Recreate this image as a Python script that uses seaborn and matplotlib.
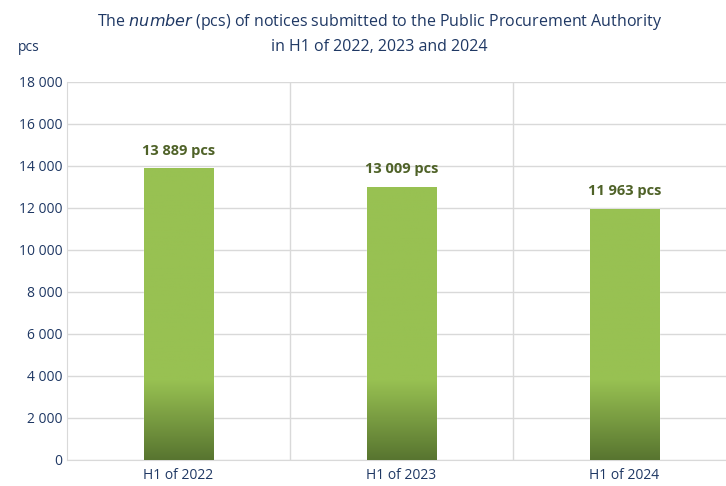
import numpy as np
import pandas as pd
import matplotlib.pyplot as plt
import seaborn as sns
from matplotlib.colors import LinearSegmentedColormap

# datos del grafico
periodos = ['H1 of 2022', 'H1 of 2023', 'H1 of 2024']
avisos = [13889, 13009, 11963]
etiquetas = ['13 889 pcs', '13 009 pcs', '11 963 pcs']

df = pd.DataFrame({'periodo': periodos, 'avisos': avisos})

sns.set_style('white')
plt.rcParams['font.family'] = ['Open Sans', 'DejaVu Sans']

azul = '#1F3864'
verde_texto = '#4F6228'
verde_claro = '#98C152'
verde_oscuro = '#587530'

fig = plt.figure(figsize=(7.26, 4.86), dpi=100)
ax = fig.add_axes([0.0923, 0.0535, 0.9215, 0.7778])

sns.barplot(data=df, x='periodo', y='avisos', color=verde_claro, width=0.31,
            saturation=1, ax=ax, zorder=2)

# degradado en la parte baja de cada barra
cmap = LinearSegmentedColormap.from_list('g', [verde_oscuro, verde_claro])
for p in ax.patches:
    x0 = p.get_x()
    w = p.get_width()
    h = p.get_height()
    ys = np.linspace(0, h, 300)
    vals = np.clip(ys / 3800, 0, 1)[::-1].reshape(-1, 1)
    im = ax.imshow(vals, cmap=cmap, vmin=0, vmax=1, aspect='auto',
                   extent=[x0, x0 + w, 0, h], zorder=3)
    im.set_clip_path(p)

ax.set_xlim(-0.5, 2.5)
ax.set_ylim(0, 18000)
ax.set_yticks(np.arange(0, 18001, 2000))
ax.set_yticklabels([f'{v:,}'.replace(',', ' ') for v in range(0, 18001, 2000)])

ax.grid(axis='y', color='#D9D9D9', linewidth=1, zorder=0)
for xv in [0.5, 1.5]:
    ax.axvline(xv, color='#D9D9D9', linewidth=1, zorder=0)

for s in ['top', 'right']:
    ax.spines[s].set_visible(False)
for s in ['left', 'bottom']:
    ax.spines[s].set_color('#D9D9D9')

ax.tick_params(axis='both', length=0, colors=azul, labelsize=10)
ax.tick_params(axis='x', pad=6)
ax.set_xlabel('')
ax.set_ylabel('')

for i, (v, t) in enumerate(zip(avisos, etiquetas)):
    ax.text(i, v + 500, t, ha='center', va='bottom', color=verde_texto,
            fontsize=10.5, fontweight='bold')

fig.text(0.523, 0.955, 'The $\\it{number}$ (pcs) of notices submitted to the Public Procurement Authority',
         ha='center', va='center', color=azul, fontsize=11.5)
fig.text(0.523, 0.903, 'in H1 of 2022, 2023 and 2024', ha='center', va='center',
         color=azul, fontsize=11.5)
fig.text(0.04, 0.903, 'pcs', ha='center', va='center', color=azul, fontsize=10)

fig.savefig('out.png', dpi=100)
